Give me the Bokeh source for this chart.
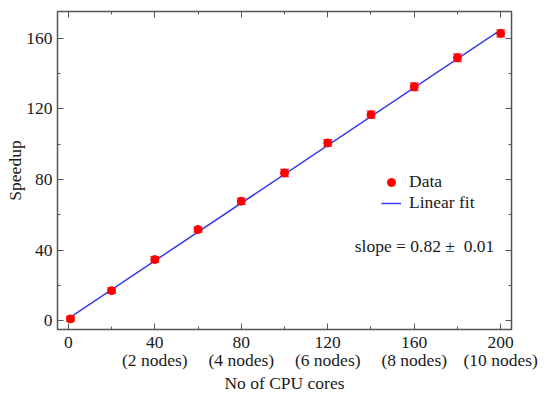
from bokeh.plotting import figure
from bokeh.models import ColumnDataSource, Whisker, TeeHead, Legend, LegendItem, Label, FixedTicker, LinearAxis, Range1d
from bokeh.embed import file_html
from bokeh.resources import INLINE

cores = [1, 20, 40, 60, 80, 100, 120, 140, 160, 180, 200]
speedup = [1.0, 17.0, 34.6, 51.6, 67.6, 83.6, 100.6, 116.6, 132.4, 148.8, 162.6]
err = [1.4, 1.6, 1.6, 1.4, 1.8, 2.0, 1.8, 2.0, 2.2, 2.2, 2.0]
fit_x = [1, 200]
fit_y = [2.0, 164.6]
xtick_vals = [0, 40, 80, 120, 160, 200]
xtick_labels = ["0", "40\n(2 nodes)", "80\n(4 nodes)", "120\n(6 nodes)", "160\n(8 nodes)", "200\n(10 nodes)"]
ytick_vals = [0, 40, 80, 120, 160]
slope_text = "slope = 0.82 \u00b1\u00a0 0.01"

FONT = "Liberation Serif"
FRAME = "#555555"
TXT = "#1a1a1a"
FS = "17.5px"

p = figure(width=550, height=395, output_backend="svg", toolbar_location=None,
           x_range=Range1d(-5, 205), y_range=Range1d(-5, 175),
           min_border_left=57, min_border_right=39, min_border_top=11, min_border_bottom=66,
           x_axis_label="No of CPU cores", y_axis_label="Speedup")
p.grid.visible = False
p.outline_line_color = FRAME
p.outline_line_width = 1.5

for ax in [p.xaxis[0], p.yaxis[0]]:
    ax.axis_line_color = FRAME
    ax.major_tick_line_color = FRAME
    ax.minor_tick_line_color = FRAME
    ax.major_tick_in = 6
    ax.major_tick_out = 0
    ax.minor_tick_in = 3
    ax.minor_tick_out = 0
    ax.major_label_text_font = FONT
    ax.major_label_text_font_size = FS
    ax.major_label_text_color = TXT
    ax.axis_label_text_font = FONT
    ax.axis_label_text_font_size = FS
    ax.axis_label_text_font_style = "normal"
    ax.axis_label_text_color = TXT

p.xaxis[0].ticker = FixedTicker(ticks=xtick_vals, minor_ticks=list(range(0, 201, 20)))
p.xaxis[0].major_label_overrides = {v: l for v, l in zip(xtick_vals, xtick_labels)}
p.xaxis[0].major_label_standoff = 2
p.xaxis[0].major_label_text_line_height = 0.9
p.xaxis[0].axis_label_standoff = 0
p.yaxis[0].ticker = FixedTicker(ticks=ytick_vals, minor_ticks=list(range(0, 175, 20)))
p.yaxis[0].major_label_standoff = 5
p.yaxis[0].axis_label_standoff = -2


def mirror(ticks, minor):
    return LinearAxis(ticker=FixedTicker(ticks=ticks, minor_ticks=minor),
                      axis_line_color=FRAME, major_tick_line_color=FRAME, minor_tick_line_color=FRAME,
                      major_tick_in=6, major_tick_out=0, minor_tick_in=3, minor_tick_out=0,
                      major_label_overrides={t: "" for t in ticks}, major_label_standoff=0)


p.add_layout(mirror(xtick_vals, list(range(0, 201, 20))), "above")
p.add_layout(mirror(ytick_vals, list(range(0, 175, 20))), "right")

src = ColumnDataSource(dict(x=cores, y=speedup, lo=[s - e for s, e in zip(speedup, err)],
                            hi=[s + e for s, e in zip(speedup, err)]))
fit = p.line(fit_x, fit_y, line_color="#3a3af0", line_width=1.5)
w = Whisker(source=src, base="x", lower="lo", upper="hi", line_color="#ff3030", line_width=1.3,
            lower_head=TeeHead(size=9, line_color="#ff3030", line_width=1.3),
            upper_head=TeeHead(size=9, line_color="#ff3030", line_width=1.3))
p.add_layout(w)
pts = p.scatter("x", "y", source=src, size=8, fill_color="#ff0000", line_color="#ff0000")

legend = Legend(items=[LegendItem(label="Data", renderers=[pts]), LegendItem(label="Linear fit", renderers=[fit])],
                location=(324, 116), border_line_alpha=0, background_fill_alpha=0, padding=0, spacing=0,
                glyph_height=20, glyph_width=20, label_height=20, label_standoff=8,
                label_text_font=FONT, label_text_font_size=FS, label_text_color=TXT)
p.add_layout(legend, "center")

p.add_layout(Label(x=132.5, y=42.5, text=slope_text, text_font=FONT, text_font_size=FS,
                   text_color=TXT, text_baseline="middle"))

open("out.html", "w").write(file_html(p, INLINE))
